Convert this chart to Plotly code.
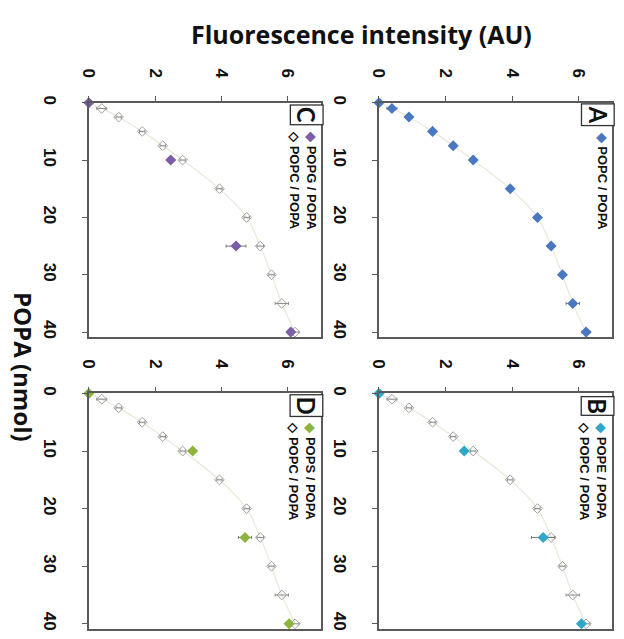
import plotly.graph_objects as go

# ---- data ----
popa_nmol = [0, 1, 2.5, 5, 7.5, 10, 15, 20, 25, 30, 35, 40]
popc_popa = [0, 0.39, 0.90, 1.61, 2.23, 2.83, 3.94, 4.76, 5.17, 5.51, 5.82, 6.22]
popc_err = [0, 0.15, 0.08, 0.08, 0.08, 0.08, 0.08, 0.08, 0.1, 0.08, 0.2, 0.12]

popa_sub = [0, 10, 25, 40]
popg_popa = [0, 2.47, 4.44, 6.09]
popg_err = [0, 0.1, 0.3, 0.1]
pope_popa = [0, 2.56, 4.93, 6.08]
pope_err = [0, 0.1, 0.35, 0.1]
pops_popa = [0, 3.13, 4.71, 6.04]
pops_err = [0, 0.1, 0.2, 0.1]

x_ticks = [0, 2, 4, 6]
y_ticks = [0, 10, 20, 30, 40]

panel_letters = ["C", "A", "D", "B"]
legend_texts = [
    ('<span style="color:#7b5ea7">◆</span> POPG / POPA<br>◇ POPC / POPA'),
    ('<span style="color:#4a78c0">◆</span> POPC / POPA'),
    ('<span style="color:#8cb43e">◆</span> POPS / POPA<br>◇ POPC / POPA'),
    ('<span style="color:#2fa8c8">◆</span> POPE / POPA<br>◇ POPC / POPA'),
]

# page body has an 8px default margin; size the figure to fit the window
OFF = 8
W, H = 624 - 2 * OFF, 639 - 2 * OFF
def px_x(p):
    return (p - OFF) / W
def px_y(p):
    return 1 - (p - OFF) / H

# panel pixel boxes in window coords: (left, right, top, bottom)
boxes = [(80, 316, 97, 335), (375, 612, 97, 335), (80, 316, 392, 631), (375, 612, 392, 631)]

fig = go.Figure()

fit_color = "#e9eadc"
open_col = "#a0a0a0"

def add_panel(i, filled_x, filled_y, filled_err, color, with_open):
    xa = "x" if i == 0 else f"x{i+1}"
    ya = "y" if i == 0 else f"y{i+1}"
    fig.add_trace(go.Scatter(x=popc_popa, y=popa_nmol, mode="lines", line=dict(color=fit_color, width=1.3, shape="spline"),
                             xaxis=xa, yaxis=ya, showlegend=False, hoverinfo="skip", cliponaxis=False))
    if with_open:
        fig.add_trace(go.Scatter(x=popc_popa, y=popa_nmol, mode="markers",
                                 marker=dict(symbol="diamond-open", size=7.5, color=open_col, line=dict(width=1, color=open_col)),
                                 error_x=dict(type="data", array=popc_err, color="#8a8a8a", thickness=1, width=1.5),
                                 xaxis=xa, yaxis=ya, showlegend=False, cliponaxis=False))
    fig.add_trace(go.Scatter(x=filled_x, y=filled_y, mode="markers",
                             marker=dict(symbol="diamond", size=8.5, color=color),
                             error_x=dict(type="data", array=filled_err, color="#777777", thickness=1, width=1.5),
                             xaxis=xa, yaxis=ya, showlegend=False, cliponaxis=False))

add_panel(0, popg_popa, popa_sub, popg_err, "#7b5ea7", True)
add_panel(1, popc_popa, popa_nmol, popc_err, "#4a78c0", False)
add_panel(2, pops_popa, popa_sub, pops_err, "#8cb43e", True)
add_panel(3, pope_popa, popa_sub, pope_err, "#2fa8c8", True)

axis_col = "#5a5a5a"
tickfont = dict(family="Liberation Sans", size=17, color="#111111", weight="bold")
layout_axes = {}
for i, (l, r, t, b) in enumerate(boxes):
    sx = "xaxis" if i == 0 else f"xaxis{i+1}"
    sy = "yaxis" if i == 0 else f"yaxis{i+1}"
    yname = "y" if i == 0 else f"y{i+1}"
    xname = "x" if i == 0 else f"x{i+1}"
    layout_axes[sx] = dict(domain=[px_x(l), px_x(r)], range=[0, 7], side="top", anchor=yname,
                           tickvals=x_ticks, ticktext=[str(v) for v in x_ticks], tickangle=90,
                           ticks="outside", ticklen=5, tickcolor=axis_col, tickwidth=1.2,
                           showline=True, linecolor=axis_col, linewidth=1.5, mirror=True,
                           showgrid=False, zeroline=False, tickfont=tickfont, ticklabelstandoff=12)
    layout_axes[sy] = dict(domain=[px_y(b), px_y(t)], range=[40.9, 0], anchor=xname,
                           tickvals=y_ticks, ticktext=[str(v) for v in y_ticks], tickangle=90,
                           ticks="outside", ticklen=5, tickcolor=axis_col, tickwidth=1.2,
                           showline=True, linecolor=axis_col, linewidth=1.5, mirror=True,
                           showgrid=False, zeroline=False, tickfont=tickfont, ticklabelstandoff=18)

annotations = []
for i, (l, r, t, b) in enumerate(boxes):
    annotations.append(dict(xref="paper", yref="paper", x=px_x(r - 14.5), y=px_y(t + 12.5),
                            text=panel_letters[i], showarrow=False, textangle=90,
                            xanchor="center", yanchor="middle",
                            font=dict(family="Lato", size=24, color="#111111", weight="bold"),
                            bordercolor="#333333", borderwidth=1.3, borderpad=1, bgcolor="white"))
    two = "<br>" in legend_texts[i]
    cx = r - 19 if two else r - 10
    annotations.append(dict(xref="paper", yref="paper", x=px_x(cx), y=px_y(t + 27),
                            text=legend_texts[i], showarrow=False, textangle=90, align="left",
                            xanchor="center", yanchor="top",
                            font=dict(family="Liberation Sans", size=13, color="#111111", weight="bold")))

annotations.append(dict(xref="paper", yref="paper", x=px_x(357), y=px_y(27), text="Fluorescence intensity (AU)",
                        showarrow=False, xanchor="center", yanchor="middle",
                        font=dict(family="Open Sans", size=25, color="#111111", weight="bold")))
annotations.append(dict(xref="paper", yref="paper", x=px_x(13), y=px_y(365), text="POPA (nmol)",
                        showarrow=False, textangle=90, xanchor="center", yanchor="middle",
                        font=dict(family="Open Sans", size=24, color="#111111", weight="bold")))

fig.update_layout(width=W, height=H, margin=dict(l=0, r=0, t=0, b=0), paper_bgcolor="white",
                  plot_bgcolor="white", showlegend=False, annotations=annotations, **layout_axes)

fig.write_html("out.html")
